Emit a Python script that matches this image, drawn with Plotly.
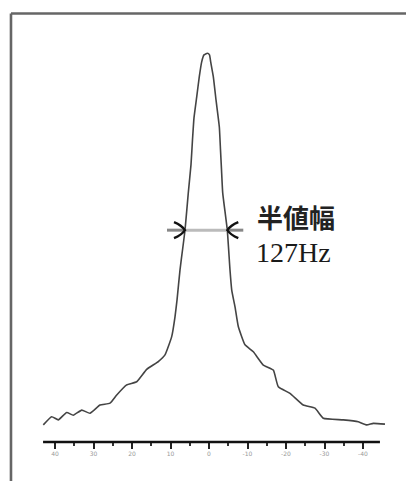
import plotly.graph_objects as go

# Spectrum (x: chemical shift-like units, reversed axis; y: normalised intensity)
shift = [43.04, 40.86, 39.14, 36.96, 35.25, 33.06, 30.91, 28.31, 25.71, 23.97,
         21.38, 18.78, 16.18, 13.17, 11.43, 9.69, 8.83, 8.31, 7.53, 6.88,
         6.23, 5.38, 4.68, 4.29, 3.90, 3.19, 2.52, 1.90, 1.30, 0.44,
         -0.13, -0.44, -1.12, -1.82, -2.68, -2.99, -3.25, -3.56, -4.75, -5.45,
         -5.90, -6.75, -7.61, -9.35, -11.51, -14.10, -16.70, -18.00, -21.04, -24.49,
         -27.53, -29.69, -34.88, -38.78, -40.96, -42.68, -45.71]
intensity = [0.044, 0.065, 0.057, 0.076, 0.069, 0.082, 0.074, 0.095, 0.100, 0.121,
             0.147, 0.155, 0.187, 0.207, 0.224, 0.271, 0.322, 0.365, 0.443, 0.494,
             0.545, 0.641, 0.713, 0.777, 0.834, 0.888, 0.940, 0.978, 0.996, 1.000,
             0.996, 0.978, 0.940, 0.880, 0.811, 0.751, 0.700, 0.641, 0.545, 0.443,
             0.391, 0.348, 0.297, 0.250, 0.232, 0.198, 0.185, 0.142, 0.125, 0.095,
             0.087, 0.061, 0.057, 0.052, 0.044, 0.048, 0.046]

major_ticks = [40, 30, 20, 10, 0, -10, -20, -30, -40]
minor_ticks = [35, 25, 15, 5, -5, -15, -25, -35]
axis_span = [43.1, -44.4]

half_level = 0.545
half_left = 6.23
half_right = -4.75
label_title = "半値幅"
label_value = "127Hz"

fig = go.Figure()
fig.add_trace(go.Scatter(x=shift, y=intensity, mode="lines", line_shape="spline",
                         line=dict(color="#444444", width=1.6, smoothing=0.4), hoverinfo="skip"))

px_x = 3.85      # pixels per x unit
px_y = 388.7     # pixels per y unit
shapes = []
# FWHM bar
shapes.append(dict(type="line", xref="x", yref="y", x0=half_left, x1=half_right,
                   y0=half_level, y1=half_level, line=dict(color="#bbbbbb", width=3)))
# arrow shafts
shapes.append(dict(type="line", xref="x", yref="y", x0=half_left + 18 / px_x, x1=half_left,
                   y0=half_level, y1=half_level, line=dict(color="#888888", width=3)))
shapes.append(dict(type="line", xref="x", yref="y", x0=half_right - 16 / px_x, x1=half_right,
                   y0=half_level, y1=half_level, line=dict(color="#888888", width=3)))
# arrow heads (open V)
dx = 11 / px_x
dy = 8 / px_y
for tip, sgn in [(half_left, 1), (half_right, -1)]:
    path = (f"M {tip + sgn*dx} {half_level + dy} Q {tip + sgn*dx*0.3} {half_level + dy*0.6} {tip} {half_level} "
            f"Q {tip + sgn*dx*0.3} {half_level - dy*0.6} {tip + sgn*dx} {half_level - dy}")
    shapes.append(dict(type="path", xref="x", yref="y", path=path,
                       line=dict(color="#111111", width=2.4)))
# baseline axis line
shapes.append(dict(type="line", xref="x", yref="paper", x0=axis_span[0], x1=axis_span[1],
                   y0=0, y1=0, line=dict(color="#111111", width=2.6)))
# picture frame
shapes.append(dict(type="line", xref="paper", yref="paper", x0=-0.0829, x1=-0.0829,
                   y0=-0.1, y1=0.9965, line=dict(color="#666666", width=2.6)))
shapes.append(dict(type="line", xref="paper", yref="paper", x0=-0.0829, x1=1.06,
                   y0=0.9965, y1=0.9965, line=dict(color="#666666", width=2.6)))

fig.update_layout(
    width=406, height=481,
    margin=dict(l=40, r=16, t=12, b=39),
    paper_bgcolor="white", plot_bgcolor="white",
    showlegend=False,
    shapes=shapes,
    xaxis=dict(range=[(209 - 40) / px_x, (209 - 390) / px_x], showgrid=False, zeroline=False,
               showline=False, tickmode="array", tickvals=major_ticks,
               ticktext=[str(v) for v in major_ticks],
               ticks="outside", ticklen=6, tickwidth=2.2, tickcolor="#222222",
               tickfont=dict(size=6, color="#999999", family="DejaVu Sans"),
               minor=dict(tickvals=minor_ticks, ticks="outside", ticklen=3, tickwidth=1.6,
                          tickcolor="#333333", showgrid=False)),
    yaxis=dict(range=[0, 430 / px_y], showgrid=False, zeroline=False, showline=False,
               showticklabels=False, ticks=""),
    annotations=[
        dict(x=(209 - 255) / px_x, y=(442 - 216) / px_y, xref="x", yref="y", text=label_title,
             showarrow=False, xanchor="left", yanchor="middle",
             font=dict(family="Noto Sans CJK JP", size=26, color="#222222", weight="bold")),
        dict(x=(209 - 254) / px_x, y=(442 - 252) / px_y, xref="x", yref="y", text=label_value,
             showarrow=False, xanchor="left", yanchor="middle",
             font=dict(family="Liberation Serif", size=28, color="#1a1a1a")),
    ],
)

fig.write_html("out.html", config={"displayModeBar": False},
               post_script="document.body.style.margin='0';")
